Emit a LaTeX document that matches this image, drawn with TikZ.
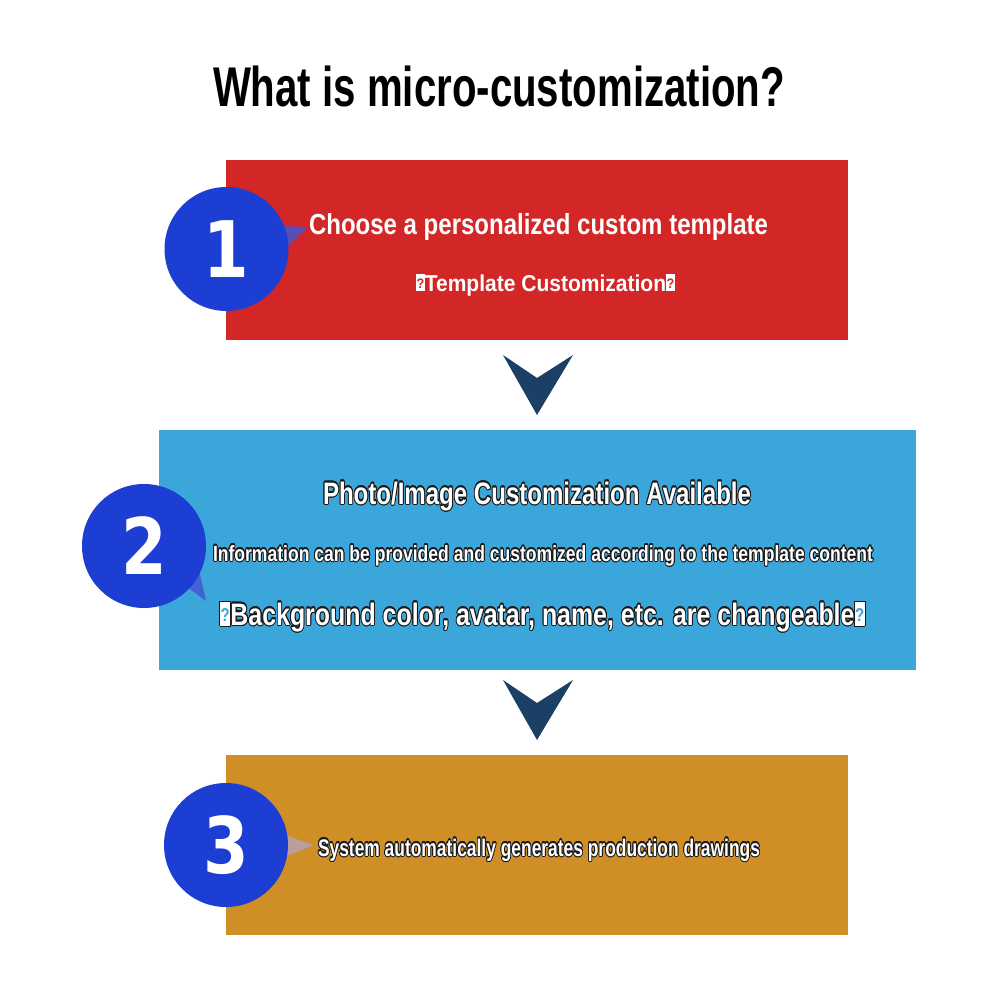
\documentclass[tikz,border=0pt]{standalone}
\usepackage{fontspec}
\setmainfont{Liberation Sans}
\newfontfamily\numfont{DejaVu Sans}
\usepackage[copies]{contour}
\contourlength{1.1pt}
\usepackage{graphicx}
\definecolor{boxred}{HTML}{D32627}
\definecolor{boxblue}{HTML}{3BA6D9}
\definecolor{boxorange}{HTML}{D08E26}
\definecolor{circblue}{HTML}{1D3ED3}
\definecolor{arrowblue}{HTML}{1C3F66}
\definecolor{outl}{HTML}{1A1A1A}
\definecolor{tailblue}{HTML}{4455D2}
\definecolor{tailpink}{HTML}{B8A0A8}
\newsavebox\fitbox
\newcommand\fitx[2]{\sbox\fitbox{#2}\pgfmathsetmacro\fx{#1/\wd\fitbox}\scalebox{\fx}[1]{\usebox\fitbox}}
\newcommand\tofu[1]{{\color{white}\rule[-0.02em]{0.42em}{0.76em}}\llap{\makebox[0.42em][c]{\color{#1}\raisebox{0.12em}{\scalebox{0.6}{?}}}}}
\newcommand\bsz[1]{\fontsize{#1}{#1}\selectfont\bfseries}
\newcommand\digit[1]{\scalebox{0.84}[1]{#1}}
\tikzset{
  x=1pt, y=-1pt,
  panel/.style={draw=none, inner sep=0, rectangle},
  numdisc/.style={circle, fill=circblue, text=white, minimum size=124pt, inner sep=0,
    font=\numfont\bfseries\fontsize{78}{78}\selectfont},
  txt/.style={anchor=base, inner sep=0, text=white},
  chevron/.style={fill=arrowblue}
}
\begin{document}
\begin{tikzpicture}
\useasboundingbox (0,0) rectangle (1000,1000);
\fill[white] (0,0) rectangle (1000,1000);
% title
\node[anchor=base, inner sep=0] (title) at (499,107) {\fitx{572}{\bsz{56}What is micro-customization?}};
% boxes
\node[panel, fill=boxred, minimum width=622pt, minimum height=180pt] (b1) at (537,250) {};
\node[panel, fill=boxblue, minimum width=757pt, minimum height=240pt] (b2) at (537.5,550) {};
\node[panel, fill=boxorange, minimum width=622pt, minimum height=180pt] (b3) at (537,845) {};
% chevrons
\fill[chevron] (503,355) -- (537,378) -- (573,355) -- (537,415) -- cycle;
\fill[chevron] (503,680) -- (537,703) -- (573,680) -- (537,740) -- cycle;
% tails
\fill[tailblue, opacity=0.85] (280,226) -- (308,227) -- (284,250) -- cycle;
\fill[tailblue, opacity=0.85] (186,586) -- (206,601) -- (199,570) -- cycle;
\fill[tailpink, opacity=0.9] (282,834) -- (314,845) -- (282,858) -- cycle;
% discs
\node[numdisc] (c1) at (226.5,249) {\digit{1}};
\node[numdisc] (c2) at (144,546) {\digit{2}};
\node[numdisc] (c3) at (226,845) {\digit{3}};
% texts box 1
\node[txt] (t11) at (538.5,234) {\fitx{459}{\bsz{29}Choose a personalized custom template}};
\node[txt] (t12) at (545.5,291) {\fitx{259}{\bsz{23}\tofu{boxred}Template Customization\tofu{boxred}}};
% texts box 2
\node[txt] (t21) at (537,504) {\fitx{428}{\contour{outl}{\bsz{31}Photo/Image Customization Available}}};
\node[txt] (t22) at (543,561) {\fitx{660}{\contour{outl}{\bsz{22}Information can be provided and customized according to the template content}}};
\node[txt] (t23) at (542.5,625) {\fitx{645}{\contour{outl}{\bsz{31}\tofu{boxblue}Background color, avatar, name, etc. are changeable\tofu{boxblue}}}};
% text box 3
\node[txt] (t31) at (539,856) {\fitx{442}{\contour{outl}{\bsz{24}System automatically generates production drawings}}};
\end{tikzpicture}
\end{document}
